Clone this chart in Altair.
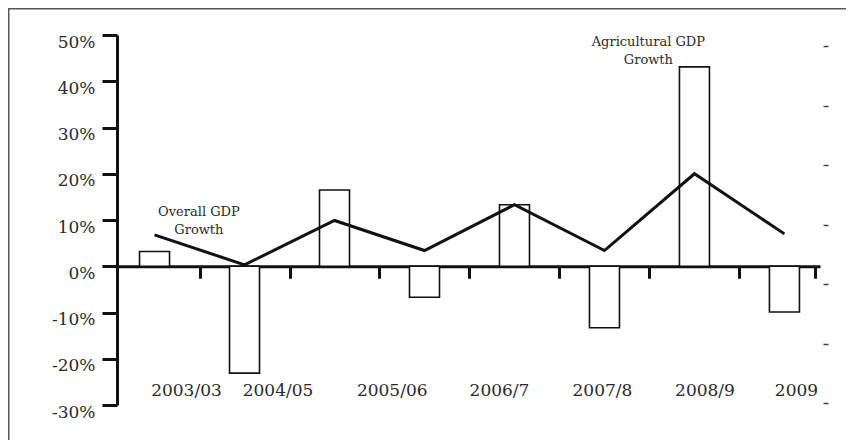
import altair as alt
import pandas as pd

# ---- data ----
periods = ["2003/03", "2004/05", "2005/06", "2006/7", "2007/8", "2008/9", "2009", "2009/10"]
agri_growth = [0.032, -0.231, 0.165, -0.067, 0.133, -0.133, 0.431, -0.099]
overall_growth = [0.068, 0.003, 0.099, 0.034, 0.133, 0.034, 0.200, 0.070]
x_tick_labels = ["2003/03", "2004/05", "2005/06", "2006/7", "2007/8", "2008/9", "2009"]
y_tick_values = [-0.3, -0.2, -0.1, 0.0, 0.1, 0.2, 0.3, 0.4, 0.5]
right_tick_values = [0, 1, 2, 3, 4, 5, 6]
annotation_texts = [["Overall GDP", "Growth"], ["Agricultural GDP", "Growth"]]

# ---- layout (not data) ----
X_DOMAIN = [-0.3615, 7.3396]
Y_DOMAIN = [-0.30, 0.50]
R_DOMAIN = [-0.03, 6.19]
LABEL_POS = [0.394, 1.397, 2.648, 3.823, 4.951, 6.074, 7.076]
ANNOT_X = [0.493, 5.488]
ANNOT_Y = [0.118, 0.485]
W, H = 703, 370
FONT = "DejaVu Serif"

df = pd.DataFrame({
    "i": list(range(len(periods))),
    "period": periods,
    "agri": agri_growth,
    "overall": overall_growth,
})
ann = pd.DataFrame({"x": ANNOT_X, "y": ANNOT_Y, "t": annotation_texts})

xs = alt.Scale(domain=X_DOMAIN, nice=False, zero=False)
ys = alt.Scale(domain=Y_DOMAIN, nice=False, zero=False)

zero_offset = -(H * (0 - Y_DOMAIN[0]) / (Y_DOMAIN[1] - Y_DOMAIN[0]))

bars = alt.Chart(df).mark_bar(
    size=30, fill="#ffffff", stroke="#111111", strokeWidth=1.6
).encode(
    x=alt.X("i:Q", scale=xs, title=None,
            axis=alt.Axis(orient="bottom", offset=zero_offset, labels=False, grid=False,
                          values=[0.5, 1.5, 2.5, 3.5, 4.5, 5.5, 6.5, X_DOMAIN[1]],
                          tickSize=12, tickWidth=3, tickColor="#111111",
                          domainWidth=3, domainColor="#111111")),
    y=alt.Y("agri:Q", scale=ys, title=None, stack=None,
            axis=alt.Axis(orient="left", values=y_tick_values, grid=False,
                          labelExpr="(datum.value < 0 ? '-' : '') + format(abs(datum.value), '.0%')",
                          tickSize=15, tickWidth=3, tickColor="#111111",
                          domainWidth=3, domainColor="#111111",
                          labelFont=FONT, labelFontSize=17, labelColor="#2a2a2a",
                          labelPadding=7, labelOffset=7)),
    y2=alt.datum(0),
)

line = alt.Chart(df).mark_line(color="#111111", strokeWidth=3).encode(
    x=alt.X("i:Q", scale=xs),
    y=alt.Y("overall:Q", scale=ys),
)

annots = alt.Chart(ann).mark_text(
    font=FONT, fontSize=13, color="#2a2a2a", align="center", baseline="middle", lineHeight=18
).encode(
    x=alt.X("x:Q", scale=xs),
    y=alt.Y("y:Q", scale=ys),
    text="t",
)

frame_data = alt.Data(values=[{"k": 1}])
frame_top = alt.Chart(frame_data).mark_rule(color="#555555", strokeWidth=2).encode(
    x=alt.value(-109), x2=alt.value(W + 26), y=alt.value(-26.5)
)
frame_left = alt.Chart(frame_data).mark_rule(color="#555555", strokeWidth=2).encode(
    x=alt.value(-108.5), y=alt.value(-27), y2=alt.value(H + 35)
)

inner = alt.layer(frame_top, frame_left, bars, line, annots)

label_expr = "{}[indexof({}, datum.value)]".format(
    "[" + ",".join("'" + s + "'" for s in x_tick_labels) + "]",
    "[" + ",".join(str(v) for v in LABEL_POS) + "]",
)
xlabels = alt.Chart(df).mark_point(opacity=0).encode(
    x=alt.X("i:Q", scale=alt.Scale(domain=X_DOMAIN, nice=False, zero=False), title=None,
            axis=alt.Axis(orient="top", offset=-(H - 14.3), values=LABEL_POS,
                          labelExpr=label_expr, ticks=False, tickSize=0, domain=False,
                          grid=False, labelPadding=0, labelBaseline="middle",
                          labelFont=FONT, labelFontSize=17, labelColor="#2a2a2a",
                          labelFlush=False, labelOverlap=False)),
)

right = alt.Chart(df).mark_point(opacity=0).encode(
    x=alt.X("i:Q", scale=alt.Scale(domain=X_DOMAIN, nice=False, zero=False), axis=None),
    y=alt.Y("i:Q", scale=alt.Scale(domain=R_DOMAIN, nice=False, zero=False), title=None,
            axis=alt.Axis(orient="right", values=right_tick_values, labels=False, domain=False,
                          grid=False, offset=3, tickSize=5, tickWidth=1.5, tickColor="#444444")),
)

chart = alt.layer(inner, xlabels, right).resolve_scale(
    x="independent", y="independent"
).resolve_axis(x="independent", y="independent").properties(
    width=W, height=H,
    autosize=alt.AutoSizeParams(type="none"),
    padding={"left": 109, "top": 27, "right": 26, "bottom": 35},
    background="#ffffff",
).configure_view(strokeWidth=0, stroke="transparent")

chart.save("out.html", embed_options={"renderer": "svg", "actions": False})
